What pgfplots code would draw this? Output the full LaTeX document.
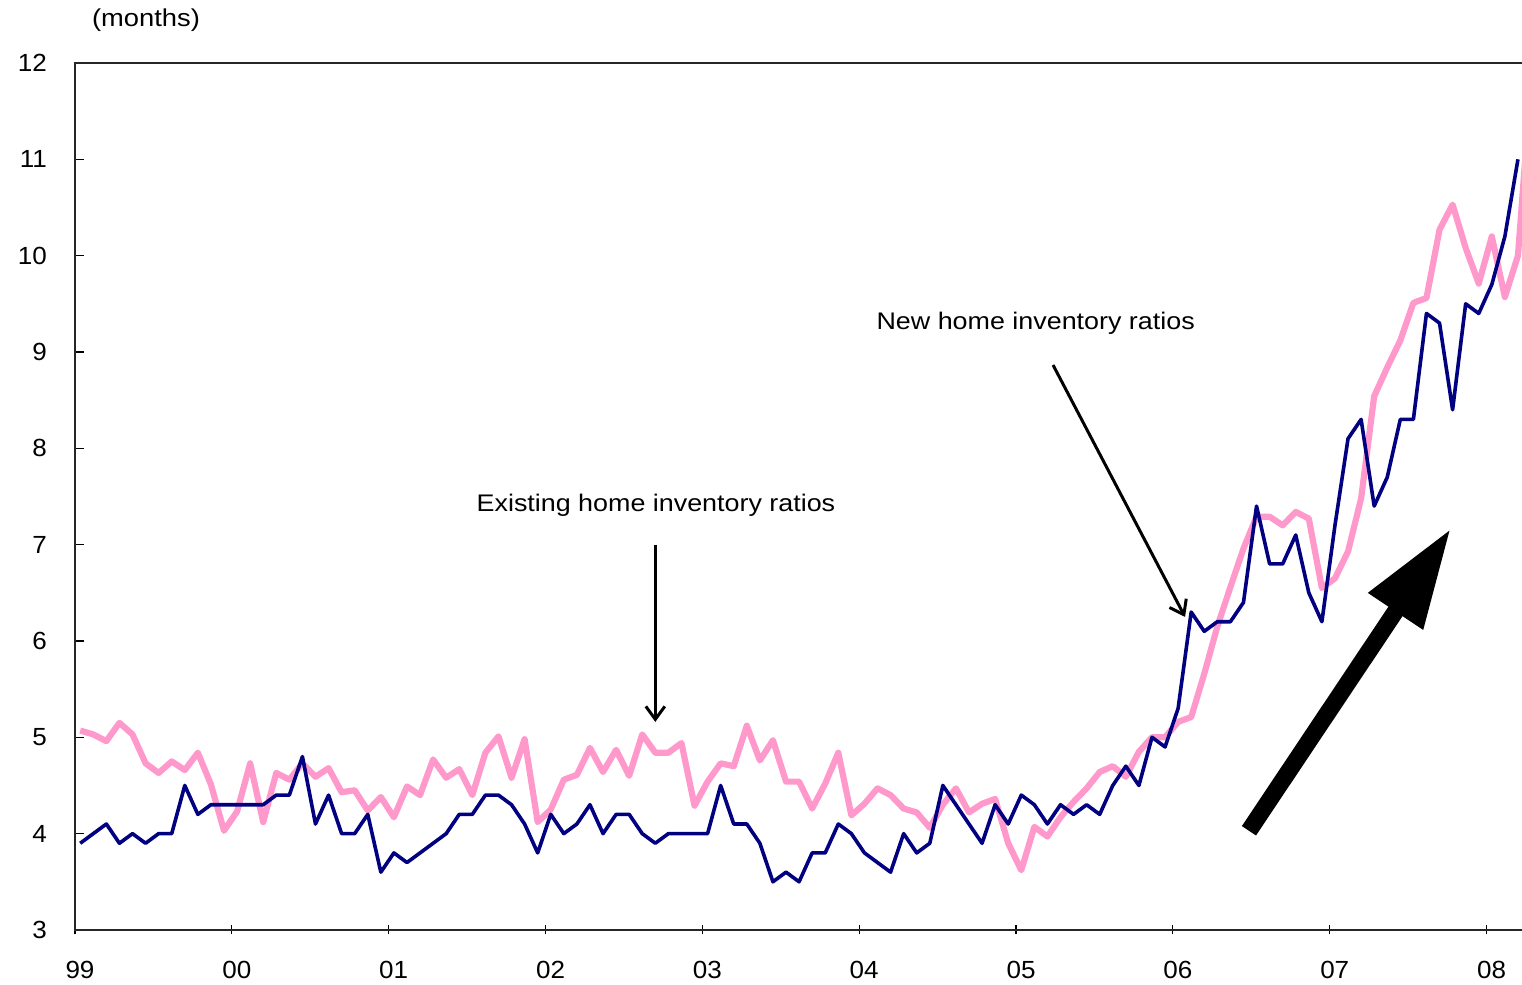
\documentclass[border=0pt]{standalone}
\usepackage{pgfplots}
\pgfplotsset{compat=1.18}
\usepackage{pgfplotstable}
\usepackage{fontspec}
\setmainfont{Liberation Sans}[FakeStretch=1.12]
\newfontfamily\tickfont{Liberation Sans}[FakeStretch=1.05]
\usetikzlibrary{arrows.meta}

\definecolor{newnavy}{HTML}{000080}
\definecolor{existpink}{HTML}{FF99CC}

% Months' supply of homes, monthly from Jan 1999 (m = months since Jan 1999)
\pgfplotstableread{
m   new   exist
0   3.9   5.07
1   4.0   5.03
2   4.1   4.96
3   3.9   5.15
4   4.0   5.03
5   3.9   4.73
6   4.0   4.63
7   4.0   4.75
8   4.5   4.66
9   4.2   4.84
10  4.3   4.51
11  4.3   4.03
12  4.3   4.23
13  4.3   4.73
14  4.3   4.12
15  4.4   4.63
16  4.4   4.56
17  4.8   4.73
18  4.1   4.59
19  4.4   4.68
20  4.0   4.43
21  4.0   4.45
22  4.2   4.24
23  3.6   4.38
24  3.8   4.17
25  3.7   4.49
26  3.8   4.40
27  3.9   4.77
28  4.0   4.58
29  4.2   4.67
30  4.2   4.40
31  4.4   4.84
32  4.4   5.01
33  4.3   4.58
34  4.1   4.98
35  3.8   4.12
36  4.2   4.25
37  4.0   4.56
38  4.1   4.61
39  4.3   4.89
40  4.0   4.64
41  4.2   4.87
42  4.2   4.60
43  4.0   5.03
44  3.9   4.84
45  4.0   4.84
46  4.0   4.94
47  4.0   4.29
48  4.0   4.54
49  4.5   4.73
50  4.1   4.70
51  4.1   5.12
52  3.9   4.76
53  3.5   4.97
54  3.6   4.54
55  3.5   4.54
56  3.8   4.26
57  3.8   4.52
58  4.1   4.84
59  4.0   4.19
60  3.8   4.31
61  3.7   4.47
62  3.6   4.40
63  4.0   4.26
64  3.8   4.22
65  3.9   4.06
66  4.5   4.30
67  4.3   4.47
68  4.1   4.22
69  3.9   4.31
70  4.3   4.36
71  4.1   3.90
72  4.4   3.62
73  4.3   4.07
74  4.1   3.97
75  4.3   4.17
76  4.2   4.33
77  4.3   4.47
78  4.2   4.64
79  4.5   4.70
80  4.7   4.59
81  4.5   4.85
82  5.0   5.00
83  4.9   5.00
84  5.3   5.16
85  6.3   5.21
86  6.1   5.66
87  6.2   6.15
88  6.2   6.56
89  6.4   6.96
90  7.4   7.29
91  6.8   7.29
92  6.8   7.20
93  7.1   7.34
94  6.5   7.27
95  6.2   6.55
96  7.2   6.65
97  8.1   6.93
98  8.3   7.48
99  7.4   8.54
100 7.7   8.84
101 8.3   9.12
102 8.3   9.51
103 9.4   9.56
104 9.3   10.27
105 8.4   10.53
106 9.5   10.08
107 9.4   9.71
108 9.7   10.20
109 10.2  9.57
110 11.0  10.00
111 nan   11.80
}\ratios

\begin{document}
\begin{tikzpicture}
\begin{axis}[
  x=6.535pt, y=48.165pt,
  xmin=0, xmax=111.3, ymin=3, ymax=12,
  axis line style={line width=0.9pt, black!85},
  xtick={0,12,...,108},
  xticklabels={99,00,01,02,03,04,05,06,07,08},
  ytick={3,4,...,12},
  xtick pos=bottom, ytick pos=left,
  xtick align=center, ytick align=inside,
  major tick length=4.5pt,
  tick style={line width=0.6pt, black},
  ticklabel style={font=\tickfont\fontsize{12.4}{14}\selectfont},
  /pgf/number format/assume math mode=true,
  yticklabel style={xshift=-10.5pt},
  xticklabel style={yshift=-10pt, xshift=2.5pt},
  clip mode=individual,
]
\addplot[existpink, line width=3.1pt, line join=round] table[x expr=\thisrow{m}+0.4, y=exist]{\ratios};
\addplot[newnavy, line width=1.8pt, line join=round] table[x expr=\thisrow{m}+0.4, y=new]{\ratios};

\node[font=\fontsize{12.2}{14}\selectfont] at (axis cs:5.43,12.447) {(months)};

\node[font=\fontsize{12}{14}\selectfont] at (axis cs:44.45,7.41) {Existing home inventory ratios};
\draw[line width=1.5pt, -{Straight Barb[length=6.5pt,width=9.5pt]}] (axis cs:44.4,7.0) -- (axis cs:44.4,5.16);

\node[font=\fontsize{12}{14}\selectfont] at (axis cs:73.5,9.30) {New home inventory ratios};
\draw[line width=1.5pt, -{Straight Barb[length=6.5pt,width=9.5pt]}] (axis cs:74.83,8.865) -- (axis cs:84.93,6.25);

\draw[line width=8.5pt, -{Triangle[length=50pt,width=30.7pt]}] (axis cs:89.82,4.03) -- (axis cs:105.28,7.17);

\coordinate (BL) at (axis cs:-5.738,2.429);
\coordinate (TR) at (axis cs:110.71,12.654);
\end{axis}
\pgfresetboundingbox
\path (BL) rectangle (TR);
\end{tikzpicture}
\end{document}
